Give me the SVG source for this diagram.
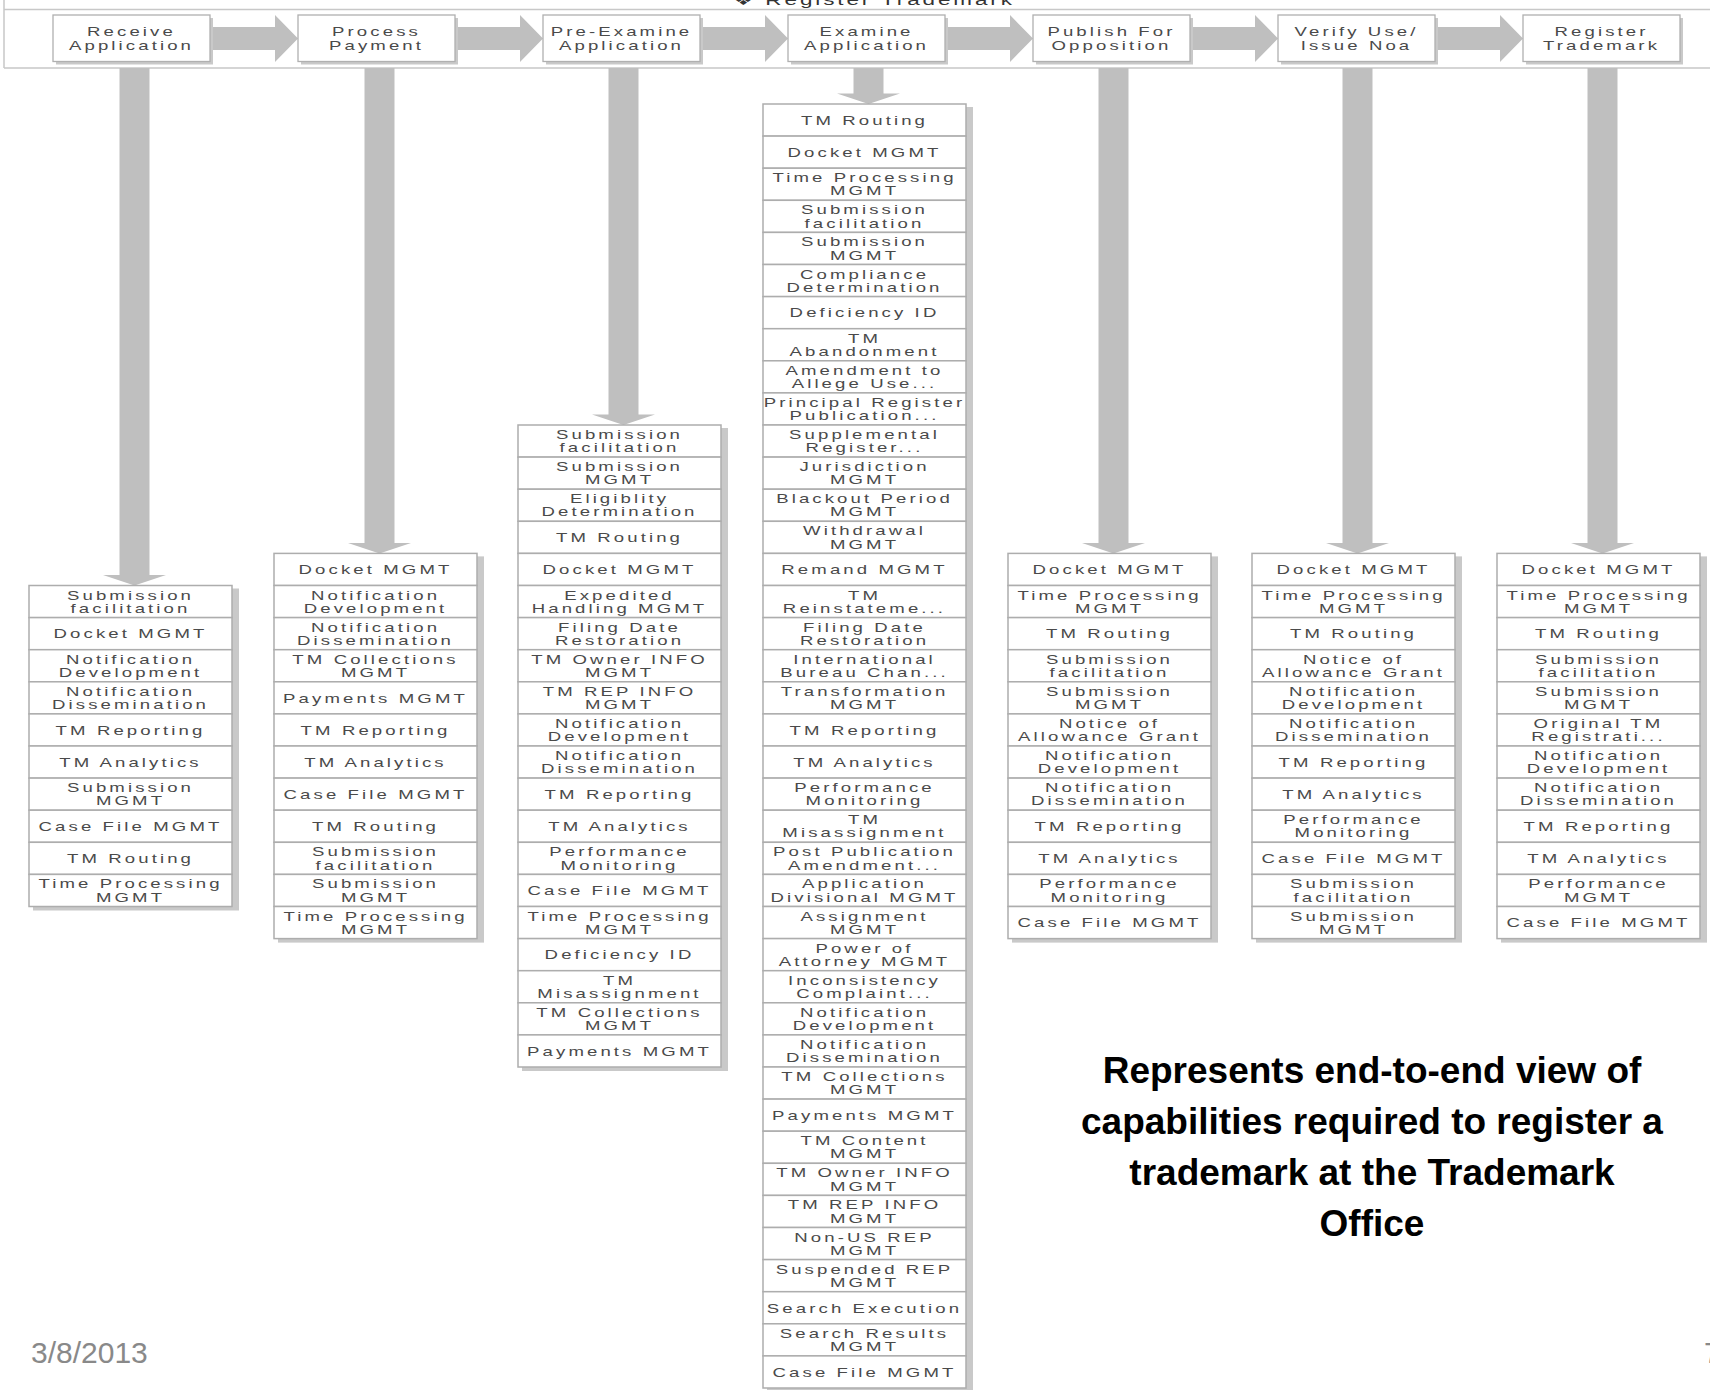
<svg xmlns="http://www.w3.org/2000/svg" width="1710" height="1390" viewBox="0 0 1710 1390">
<style>
.cell{fill:#fff;stroke:#adadad;stroke-width:1.5}
.sh{fill:#c9c9c9}
.t{font-family:"Liberation Sans","DejaVu Sans",Arial,sans-serif;font-size:12px;fill:#4a4a4a;letter-spacing:2px;text-anchor:middle}
.ttl{font-family:"Liberation Sans","DejaVu Sans",Arial,sans-serif;font-size:15.5px;fill:#333;letter-spacing:2px;text-anchor:middle}
.arr{fill:#bfbfbf}
.pbox{fill:#fff;stroke:#b0b0b0;stroke-width:1.3}
.frame{stroke:#c8c8c8;stroke-width:1.5;fill:none}
.note{font-family:"Liberation Sans",Arial,sans-serif;font-size:37px;font-weight:bold;fill:#000;text-anchor:middle}
.foot{font-family:"Liberation Sans",Arial,sans-serif;font-size:30px;fill:#898989}
</style>
<rect width="1710" height="1390" fill="#fff"/>
<g id="frame">
<path class="frame" d="M4,0 V68 M4,9.5 H1710 M4,68 H1710"/>
<text class="ttl" transform="translate(874 5) scale(1.45 1)">❖ Register Trademark</text>
</g>
<g id="connectors">
<polygon class="arr" points="210,27 275,27 275,15 298,38.5 275,62 275,50 210,50"/>
<polygon class="arr" points="455,27 520,27 520,15 543,38.5 520,62 520,50 455,50"/>
<polygon class="arr" points="700,27 765,27 765,15 788,38.5 765,62 765,50 700,50"/>
<polygon class="arr" points="945,27 1010,27 1010,15 1033,38.5 1010,62 1010,50 945,50"/>
<polygon class="arr" points="1190,27 1255,27 1255,15 1278,38.5 1255,62 1255,50 1190,50"/>
<polygon class="arr" points="1435,27 1500,27 1500,15 1523,38.5 1500,62 1500,50 1435,50"/>
<polygon class="arr" points="119.5,68 149.5,68 149.5,575 166,575 134.5,585.5 103,575 119.5,575"/>
<polygon class="arr" points="364.5,68 394.5,68 394.5,543 411,543 379.5,553.4 348,543 364.5,543"/>
<polygon class="arr" points="608.5,68 638.5,68 638.5,414.5 655,414.5 623.5,425 592,414.5 608.5,414.5"/>
<polygon class="arr" points="853.5,68 883.5,68 883.5,93.5 900,93.5 868.5,104 837,93.5 853.5,93.5"/>
<polygon class="arr" points="1098.5,68 1128.5,68 1128.5,543 1145,543 1113.5,553.4 1082,543 1098.5,543"/>
<polygon class="arr" points="1342.5,68 1372.5,68 1372.5,543 1389,543 1357.5,553.4 1326,543 1342.5,543"/>
<polygon class="arr" points="1587.5,68 1617.5,68 1617.5,543 1634,543 1602.5,553.4 1571,543 1587.5,543"/>
</g>
<g id="processes">
<g id="p0"><rect class="sh" x="56" y="18" width="157" height="46.5"/><rect class="pbox" x="53" y="15" width="157" height="46.5"/><text class="t" transform="translate(131.5 36) scale(1.55 1)"><tspan x="0">Receive</tspan><tspan x="0" dy="14">Application</tspan></text></g>
<g id="p1"><rect class="sh" x="301" y="18" width="157" height="46.5"/><rect class="pbox" x="298" y="15" width="157" height="46.5"/><text class="t" transform="translate(376.5 36) scale(1.55 1)"><tspan x="0">Process</tspan><tspan x="0" dy="14">Payment</tspan></text></g>
<g id="p2"><rect class="sh" x="546" y="18" width="157" height="46.5"/><rect class="pbox" x="543" y="15" width="157" height="46.5"/><text class="t" transform="translate(621.5 36) scale(1.55 1)"><tspan x="0">Pre-Examine</tspan><tspan x="0" dy="14">Application</tspan></text></g>
<g id="p3"><rect class="sh" x="791" y="18" width="157" height="46.5"/><rect class="pbox" x="788" y="15" width="157" height="46.5"/><text class="t" transform="translate(866.5 36) scale(1.55 1)"><tspan x="0">Examine</tspan><tspan x="0" dy="14">Application</tspan></text></g>
<g id="p4"><rect class="sh" x="1036" y="18" width="157" height="46.5"/><rect class="pbox" x="1033" y="15" width="157" height="46.5"/><text class="t" transform="translate(1111.5 36) scale(1.55 1)"><tspan x="0">Publish For</tspan><tspan x="0" dy="14">Opposition</tspan></text></g>
<g id="p5"><rect class="sh" x="1281" y="18" width="157" height="46.5"/><rect class="pbox" x="1278" y="15" width="157" height="46.5"/><text class="t" transform="translate(1356.5 36) scale(1.55 1)"><tspan x="0">Verify Use/</tspan><tspan x="0" dy="14">Issue Noa</tspan></text></g>
<g id="p6"><rect class="sh" x="1526" y="18" width="157" height="46.5"/><rect class="pbox" x="1523" y="15" width="157" height="46.5"/><text class="t" transform="translate(1601.5 36) scale(1.55 1)"><tspan x="0">Register</tspan><tspan x="0" dy="14">Trademark</tspan></text></g>
</g>
<g id="shadows">
<rect class="sh" x="33" y="588.5" width="206" height="322"/>
<rect class="sh" x="278" y="556.4" width="206" height="386.2"/>
<rect class="sh" x="522" y="428" width="206" height="643"/>
<rect class="sh" x="767" y="107" width="206" height="1285"/>
<rect class="sh" x="1012" y="556.4" width="206" height="386.2"/>
<rect class="sh" x="1256" y="556.4" width="206" height="386.2"/>
<rect class="sh" x="1501" y="556.4" width="206" height="386.2"/>
</g>
<g id="col-receive">
<g id="c0-1"><rect class="cell" x="29" y="585.5" width="203" height="32.1"/><text class="t" transform="translate(130.5 599.5) scale(1.55 1)"><tspan x="0">Submission</tspan><tspan x="0" dy="13.3">facilitation</tspan></text></g>
<g id="c0-2"><rect class="cell" x="29" y="617.6" width="203" height="32.1"/><text class="t" transform="translate(130.5 638.4) scale(1.55 1)">Docket MGMT</text></g>
<g id="c0-3"><rect class="cell" x="29" y="649.7" width="203" height="32.1"/><text class="t" transform="translate(130.5 663.7) scale(1.55 1)"><tspan x="0">Notification</tspan><tspan x="0" dy="13.3">Development</tspan></text></g>
<g id="c0-4"><rect class="cell" x="29" y="681.8" width="203" height="32.1"/><text class="t" transform="translate(130.5 695.8) scale(1.55 1)"><tspan x="0">Notification</tspan><tspan x="0" dy="13.3">Dissemination</tspan></text></g>
<g id="c0-5"><rect class="cell" x="29" y="713.9" width="203" height="32.1"/><text class="t" transform="translate(130.5 734.7) scale(1.55 1)">TM Reporting</text></g>
<g id="c0-6"><rect class="cell" x="29" y="746" width="203" height="32.1"/><text class="t" transform="translate(130.5 766.8) scale(1.55 1)">TM Analytics</text></g>
<g id="c0-7"><rect class="cell" x="29" y="778.1" width="203" height="32.1"/><text class="t" transform="translate(130.5 792.1) scale(1.55 1)"><tspan x="0">Submission</tspan><tspan x="0" dy="13.3">MGMT</tspan></text></g>
<g id="c0-8"><rect class="cell" x="29" y="810.2" width="203" height="32.1"/><text class="t" transform="translate(130.5 831) scale(1.55 1)">Case File MGMT</text></g>
<g id="c0-9"><rect class="cell" x="29" y="842.3" width="203" height="32.1"/><text class="t" transform="translate(130.5 863.1) scale(1.55 1)">TM Routing</text></g>
<g id="c0-10"><rect class="cell" x="29" y="874.4" width="203" height="32.1"/><text class="t" transform="translate(130.5 888.4) scale(1.55 1)"><tspan x="0">Time Processing</tspan><tspan x="0" dy="13.3">MGMT</tspan></text></g>
</g>
<g id="col-payment">
<g id="c1-1"><rect class="cell" x="274" y="553.4" width="203" height="32.1"/><text class="t" transform="translate(375.5 574.2) scale(1.55 1)">Docket MGMT</text></g>
<g id="c1-2"><rect class="cell" x="274" y="585.5" width="203" height="32.1"/><text class="t" transform="translate(375.5 599.5) scale(1.55 1)"><tspan x="0">Notification</tspan><tspan x="0" dy="13.3">Development</tspan></text></g>
<g id="c1-3"><rect class="cell" x="274" y="617.6" width="203" height="32.1"/><text class="t" transform="translate(375.5 631.6) scale(1.55 1)"><tspan x="0">Notification</tspan><tspan x="0" dy="13.3">Dissemination</tspan></text></g>
<g id="c1-4"><rect class="cell" x="274" y="649.7" width="203" height="32.1"/><text class="t" transform="translate(375.5 663.7) scale(1.55 1)"><tspan x="0">TM Collections</tspan><tspan x="0" dy="13.3">MGMT</tspan></text></g>
<g id="c1-5"><rect class="cell" x="274" y="681.8" width="203" height="32.1"/><text class="t" transform="translate(375.5 702.6) scale(1.55 1)">Payments MGMT</text></g>
<g id="c1-6"><rect class="cell" x="274" y="713.9" width="203" height="32.1"/><text class="t" transform="translate(375.5 734.7) scale(1.55 1)">TM Reporting</text></g>
<g id="c1-7"><rect class="cell" x="274" y="746" width="203" height="32.1"/><text class="t" transform="translate(375.5 766.8) scale(1.55 1)">TM Analytics</text></g>
<g id="c1-8"><rect class="cell" x="274" y="778.1" width="203" height="32.1"/><text class="t" transform="translate(375.5 798.9) scale(1.55 1)">Case File MGMT</text></g>
<g id="c1-9"><rect class="cell" x="274" y="810.2" width="203" height="32.1"/><text class="t" transform="translate(375.5 831) scale(1.55 1)">TM Routing</text></g>
<g id="c1-10"><rect class="cell" x="274" y="842.3" width="203" height="32.1"/><text class="t" transform="translate(375.5 856.3) scale(1.55 1)"><tspan x="0">Submission</tspan><tspan x="0" dy="13.3">facilitation</tspan></text></g>
<g id="c1-11"><rect class="cell" x="274" y="874.4" width="203" height="32.1"/><text class="t" transform="translate(375.5 888.4) scale(1.55 1)"><tspan x="0">Submission</tspan><tspan x="0" dy="13.3">MGMT</tspan></text></g>
<g id="c1-12"><rect class="cell" x="274" y="906.5" width="203" height="32.1"/><text class="t" transform="translate(375.5 920.5) scale(1.55 1)"><tspan x="0">Time Processing</tspan><tspan x="0" dy="13.3">MGMT</tspan></text></g>
</g>
<g id="col-preexamine">
<g id="c2-1"><rect class="cell" x="518" y="425" width="203" height="32.1"/><text class="t" transform="translate(619.5 439) scale(1.55 1)"><tspan x="0">Submission</tspan><tspan x="0" dy="13.3">facilitation</tspan></text></g>
<g id="c2-2"><rect class="cell" x="518" y="457.1" width="203" height="32.1"/><text class="t" transform="translate(619.5 471.1) scale(1.55 1)"><tspan x="0">Submission</tspan><tspan x="0" dy="13.3">MGMT</tspan></text></g>
<g id="c2-3"><rect class="cell" x="518" y="489.2" width="203" height="32.1"/><text class="t" transform="translate(619.5 503.2) scale(1.55 1)"><tspan x="0">Eligiblity</tspan><tspan x="0" dy="13.3">Determination</tspan></text></g>
<g id="c2-4"><rect class="cell" x="518" y="521.3" width="203" height="32.1"/><text class="t" transform="translate(619.5 542.1) scale(1.55 1)">TM Routing</text></g>
<g id="c2-5"><rect class="cell" x="518" y="553.4" width="203" height="32.1"/><text class="t" transform="translate(619.5 574.2) scale(1.55 1)">Docket MGMT</text></g>
<g id="c2-6"><rect class="cell" x="518" y="585.5" width="203" height="32.1"/><text class="t" transform="translate(619.5 599.5) scale(1.55 1)"><tspan x="0">Expedited</tspan><tspan x="0" dy="13.3">Handling MGMT</tspan></text></g>
<g id="c2-7"><rect class="cell" x="518" y="617.6" width="203" height="32.1"/><text class="t" transform="translate(619.5 631.6) scale(1.55 1)"><tspan x="0">Filing Date</tspan><tspan x="0" dy="13.3">Restoration</tspan></text></g>
<g id="c2-8"><rect class="cell" x="518" y="649.7" width="203" height="32.1"/><text class="t" transform="translate(619.5 663.7) scale(1.55 1)"><tspan x="0">TM Owner INFO</tspan><tspan x="0" dy="13.3">MGMT</tspan></text></g>
<g id="c2-9"><rect class="cell" x="518" y="681.8" width="203" height="32.1"/><text class="t" transform="translate(619.5 695.8) scale(1.55 1)"><tspan x="0">TM REP INFO</tspan><tspan x="0" dy="13.3">MGMT</tspan></text></g>
<g id="c2-10"><rect class="cell" x="518" y="713.9" width="203" height="32.1"/><text class="t" transform="translate(619.5 727.9) scale(1.55 1)"><tspan x="0">Notification</tspan><tspan x="0" dy="13.3">Development</tspan></text></g>
<g id="c2-11"><rect class="cell" x="518" y="746" width="203" height="32.1"/><text class="t" transform="translate(619.5 760) scale(1.55 1)"><tspan x="0">Notification</tspan><tspan x="0" dy="13.3">Dissemination</tspan></text></g>
<g id="c2-12"><rect class="cell" x="518" y="778.1" width="203" height="32.1"/><text class="t" transform="translate(619.5 798.9) scale(1.55 1)">TM Reporting</text></g>
<g id="c2-13"><rect class="cell" x="518" y="810.2" width="203" height="32.1"/><text class="t" transform="translate(619.5 831) scale(1.55 1)">TM Analytics</text></g>
<g id="c2-14"><rect class="cell" x="518" y="842.3" width="203" height="32.1"/><text class="t" transform="translate(619.5 856.3) scale(1.55 1)"><tspan x="0">Performance</tspan><tspan x="0" dy="13.3">Monitoring</tspan></text></g>
<g id="c2-15"><rect class="cell" x="518" y="874.4" width="203" height="32.1"/><text class="t" transform="translate(619.5 895.2) scale(1.55 1)">Case File MGMT</text></g>
<g id="c2-16"><rect class="cell" x="518" y="906.5" width="203" height="32.1"/><text class="t" transform="translate(619.5 920.5) scale(1.55 1)"><tspan x="0">Time Processing</tspan><tspan x="0" dy="13.3">MGMT</tspan></text></g>
<g id="c2-17"><rect class="cell" x="518" y="938.6" width="203" height="32.1"/><text class="t" transform="translate(619.5 959.4) scale(1.55 1)">Deficiency ID</text></g>
<g id="c2-18"><rect class="cell" x="518" y="970.7" width="203" height="32.1"/><text class="t" transform="translate(619.5 984.7) scale(1.55 1)"><tspan x="0">TM</tspan><tspan x="0" dy="13.3">Misassignment</tspan></text></g>
<g id="c2-19"><rect class="cell" x="518" y="1002.8" width="203" height="32.1"/><text class="t" transform="translate(619.5 1016.8) scale(1.55 1)"><tspan x="0">TM Collections</tspan><tspan x="0" dy="13.3">MGMT</tspan></text></g>
<g id="c2-20"><rect class="cell" x="518" y="1034.9" width="203" height="32.1"/><text class="t" transform="translate(619.5 1055.7) scale(1.55 1)">Payments MGMT</text></g>
</g>
<g id="col-examine">
<g id="c3-1"><rect class="cell" x="763" y="104" width="203" height="32.1"/><text class="t" transform="translate(864.5 124.8) scale(1.55 1)">TM Routing</text></g>
<g id="c3-2"><rect class="cell" x="763" y="136.1" width="203" height="32.1"/><text class="t" transform="translate(864.5 156.9) scale(1.55 1)">Docket MGMT</text></g>
<g id="c3-3"><rect class="cell" x="763" y="168.2" width="203" height="32.1"/><text class="t" transform="translate(864.5 182.2) scale(1.55 1)"><tspan x="0">Time Processing</tspan><tspan x="0" dy="13.3">MGMT</tspan></text></g>
<g id="c3-4"><rect class="cell" x="763" y="200.3" width="203" height="32.1"/><text class="t" transform="translate(864.5 214.3) scale(1.55 1)"><tspan x="0">Submission</tspan><tspan x="0" dy="13.3">facilitation</tspan></text></g>
<g id="c3-5"><rect class="cell" x="763" y="232.4" width="203" height="32.1"/><text class="t" transform="translate(864.5 246.4) scale(1.55 1)"><tspan x="0">Submission</tspan><tspan x="0" dy="13.3">MGMT</tspan></text></g>
<g id="c3-6"><rect class="cell" x="763" y="264.5" width="203" height="32.1"/><text class="t" transform="translate(864.5 278.5) scale(1.55 1)"><tspan x="0">Compliance</tspan><tspan x="0" dy="13.3">Determination</tspan></text></g>
<g id="c3-7"><rect class="cell" x="763" y="296.6" width="203" height="32.1"/><text class="t" transform="translate(864.5 317.4) scale(1.55 1)">Deficiency ID</text></g>
<g id="c3-8"><rect class="cell" x="763" y="328.7" width="203" height="32.1"/><text class="t" transform="translate(864.5 342.7) scale(1.55 1)"><tspan x="0">TM</tspan><tspan x="0" dy="13.3">Abandonment</tspan></text></g>
<g id="c3-9"><rect class="cell" x="763" y="360.8" width="203" height="32.1"/><text class="t" transform="translate(864.5 374.8) scale(1.55 1)"><tspan x="0">Amendment to</tspan><tspan x="0" dy="13.3">Allege Use...</tspan></text></g>
<g id="c3-10"><rect class="cell" x="763" y="392.9" width="203" height="32.1"/><text class="t" transform="translate(864.5 406.9) scale(1.55 1)"><tspan x="0">Principal Register</tspan><tspan x="0" dy="13.3">Publication...</tspan></text></g>
<g id="c3-11"><rect class="cell" x="763" y="425" width="203" height="32.1"/><text class="t" transform="translate(864.5 439) scale(1.55 1)"><tspan x="0">Supplemental</tspan><tspan x="0" dy="13.3">Register...</tspan></text></g>
<g id="c3-12"><rect class="cell" x="763" y="457.1" width="203" height="32.1"/><text class="t" transform="translate(864.5 471.1) scale(1.55 1)"><tspan x="0">Jurisdiction</tspan><tspan x="0" dy="13.3">MGMT</tspan></text></g>
<g id="c3-13"><rect class="cell" x="763" y="489.2" width="203" height="32.1"/><text class="t" transform="translate(864.5 503.2) scale(1.55 1)"><tspan x="0">Blackout Period</tspan><tspan x="0" dy="13.3">MGMT</tspan></text></g>
<g id="c3-14"><rect class="cell" x="763" y="521.3" width="203" height="32.1"/><text class="t" transform="translate(864.5 535.3) scale(1.55 1)"><tspan x="0">Withdrawal</tspan><tspan x="0" dy="13.3">MGMT</tspan></text></g>
<g id="c3-15"><rect class="cell" x="763" y="553.4" width="203" height="32.1"/><text class="t" transform="translate(864.5 574.2) scale(1.55 1)">Remand MGMT</text></g>
<g id="c3-16"><rect class="cell" x="763" y="585.5" width="203" height="32.1"/><text class="t" transform="translate(864.5 599.5) scale(1.55 1)"><tspan x="0">TM</tspan><tspan x="0" dy="13.3">Reinstateme...</tspan></text></g>
<g id="c3-17"><rect class="cell" x="763" y="617.6" width="203" height="32.1"/><text class="t" transform="translate(864.5 631.6) scale(1.55 1)"><tspan x="0">Filing Date</tspan><tspan x="0" dy="13.3">Restoration</tspan></text></g>
<g id="c3-18"><rect class="cell" x="763" y="649.7" width="203" height="32.1"/><text class="t" transform="translate(864.5 663.7) scale(1.55 1)"><tspan x="0">International</tspan><tspan x="0" dy="13.3">Bureau Chan...</tspan></text></g>
<g id="c3-19"><rect class="cell" x="763" y="681.8" width="203" height="32.1"/><text class="t" transform="translate(864.5 695.8) scale(1.55 1)"><tspan x="0">Transformation</tspan><tspan x="0" dy="13.3">MGMT</tspan></text></g>
<g id="c3-20"><rect class="cell" x="763" y="713.9" width="203" height="32.1"/><text class="t" transform="translate(864.5 734.7) scale(1.55 1)">TM Reporting</text></g>
<g id="c3-21"><rect class="cell" x="763" y="746" width="203" height="32.1"/><text class="t" transform="translate(864.5 766.8) scale(1.55 1)">TM Analytics</text></g>
<g id="c3-22"><rect class="cell" x="763" y="778.1" width="203" height="32.1"/><text class="t" transform="translate(864.5 792.1) scale(1.55 1)"><tspan x="0">Performance</tspan><tspan x="0" dy="13.3">Monitoring</tspan></text></g>
<g id="c3-23"><rect class="cell" x="763" y="810.2" width="203" height="32.1"/><text class="t" transform="translate(864.5 824.2) scale(1.55 1)"><tspan x="0">TM</tspan><tspan x="0" dy="13.3">Misassignment</tspan></text></g>
<g id="c3-24"><rect class="cell" x="763" y="842.3" width="203" height="32.1"/><text class="t" transform="translate(864.5 856.3) scale(1.55 1)"><tspan x="0">Post Publication</tspan><tspan x="0" dy="13.3">Amendment...</tspan></text></g>
<g id="c3-25"><rect class="cell" x="763" y="874.4" width="203" height="32.1"/><text class="t" transform="translate(864.5 888.4) scale(1.55 1)"><tspan x="0">Application</tspan><tspan x="0" dy="13.3">Divisional MGMT</tspan></text></g>
<g id="c3-26"><rect class="cell" x="763" y="906.5" width="203" height="32.1"/><text class="t" transform="translate(864.5 920.5) scale(1.55 1)"><tspan x="0">Assignment</tspan><tspan x="0" dy="13.3">MGMT</tspan></text></g>
<g id="c3-27"><rect class="cell" x="763" y="938.6" width="203" height="32.1"/><text class="t" transform="translate(864.5 952.6) scale(1.55 1)"><tspan x="0">Power of</tspan><tspan x="0" dy="13.3">Attorney MGMT</tspan></text></g>
<g id="c3-28"><rect class="cell" x="763" y="970.7" width="203" height="32.1"/><text class="t" transform="translate(864.5 984.7) scale(1.55 1)"><tspan x="0">Inconsistency</tspan><tspan x="0" dy="13.3">Complaint...</tspan></text></g>
<g id="c3-29"><rect class="cell" x="763" y="1002.8" width="203" height="32.1"/><text class="t" transform="translate(864.5 1016.8) scale(1.55 1)"><tspan x="0">Notification</tspan><tspan x="0" dy="13.3">Development</tspan></text></g>
<g id="c3-30"><rect class="cell" x="763" y="1034.9" width="203" height="32.1"/><text class="t" transform="translate(864.5 1048.9) scale(1.55 1)"><tspan x="0">Notification</tspan><tspan x="0" dy="13.3">Dissemination</tspan></text></g>
<g id="c3-31"><rect class="cell" x="763" y="1067" width="203" height="32.1"/><text class="t" transform="translate(864.5 1081) scale(1.55 1)"><tspan x="0">TM Collections</tspan><tspan x="0" dy="13.3">MGMT</tspan></text></g>
<g id="c3-32"><rect class="cell" x="763" y="1099.1" width="203" height="32.1"/><text class="t" transform="translate(864.5 1119.9) scale(1.55 1)">Payments MGMT</text></g>
<g id="c3-33"><rect class="cell" x="763" y="1131.2" width="203" height="32.1"/><text class="t" transform="translate(864.5 1145.2) scale(1.55 1)"><tspan x="0">TM Content</tspan><tspan x="0" dy="13.3">MGMT</tspan></text></g>
<g id="c3-34"><rect class="cell" x="763" y="1163.3" width="203" height="32.1"/><text class="t" transform="translate(864.5 1177.3) scale(1.55 1)"><tspan x="0">TM Owner INFO</tspan><tspan x="0" dy="13.3">MGMT</tspan></text></g>
<g id="c3-35"><rect class="cell" x="763" y="1195.4" width="203" height="32.1"/><text class="t" transform="translate(864.5 1209.4) scale(1.55 1)"><tspan x="0">TM REP INFO</tspan><tspan x="0" dy="13.3">MGMT</tspan></text></g>
<g id="c3-36"><rect class="cell" x="763" y="1227.5" width="203" height="32.1"/><text class="t" transform="translate(864.5 1241.5) scale(1.55 1)"><tspan x="0">Non-US REP</tspan><tspan x="0" dy="13.3">MGMT</tspan></text></g>
<g id="c3-37"><rect class="cell" x="763" y="1259.6" width="203" height="32.1"/><text class="t" transform="translate(864.5 1273.6) scale(1.55 1)"><tspan x="0">Suspended REP</tspan><tspan x="0" dy="13.3">MGMT</tspan></text></g>
<g id="c3-38"><rect class="cell" x="763" y="1291.7" width="203" height="32.1"/><text class="t" transform="translate(864.5 1312.5) scale(1.55 1)">Search Execution</text></g>
<g id="c3-39"><rect class="cell" x="763" y="1323.8" width="203" height="32.1"/><text class="t" transform="translate(864.5 1337.8) scale(1.55 1)"><tspan x="0">Search Results</tspan><tspan x="0" dy="13.3">MGMT</tspan></text></g>
<g id="c3-40"><rect class="cell" x="763" y="1355.9" width="203" height="32.1"/><text class="t" transform="translate(864.5 1376.7) scale(1.55 1)">Case File MGMT</text></g>
</g>
<g id="col-publish">
<g id="c4-1"><rect class="cell" x="1008" y="553.4" width="203" height="32.1"/><text class="t" transform="translate(1109.5 574.2) scale(1.55 1)">Docket MGMT</text></g>
<g id="c4-2"><rect class="cell" x="1008" y="585.5" width="203" height="32.1"/><text class="t" transform="translate(1109.5 599.5) scale(1.55 1)"><tspan x="0">Time Processing</tspan><tspan x="0" dy="13.3">MGMT</tspan></text></g>
<g id="c4-3"><rect class="cell" x="1008" y="617.6" width="203" height="32.1"/><text class="t" transform="translate(1109.5 638.4) scale(1.55 1)">TM Routing</text></g>
<g id="c4-4"><rect class="cell" x="1008" y="649.7" width="203" height="32.1"/><text class="t" transform="translate(1109.5 663.7) scale(1.55 1)"><tspan x="0">Submission</tspan><tspan x="0" dy="13.3">facilitation</tspan></text></g>
<g id="c4-5"><rect class="cell" x="1008" y="681.8" width="203" height="32.1"/><text class="t" transform="translate(1109.5 695.8) scale(1.55 1)"><tspan x="0">Submission</tspan><tspan x="0" dy="13.3">MGMT</tspan></text></g>
<g id="c4-6"><rect class="cell" x="1008" y="713.9" width="203" height="32.1"/><text class="t" transform="translate(1109.5 727.9) scale(1.55 1)"><tspan x="0">Notice of</tspan><tspan x="0" dy="13.3">Allowance Grant</tspan></text></g>
<g id="c4-7"><rect class="cell" x="1008" y="746" width="203" height="32.1"/><text class="t" transform="translate(1109.5 760) scale(1.55 1)"><tspan x="0">Notification</tspan><tspan x="0" dy="13.3">Development</tspan></text></g>
<g id="c4-8"><rect class="cell" x="1008" y="778.1" width="203" height="32.1"/><text class="t" transform="translate(1109.5 792.1) scale(1.55 1)"><tspan x="0">Notification</tspan><tspan x="0" dy="13.3">Dissemination</tspan></text></g>
<g id="c4-9"><rect class="cell" x="1008" y="810.2" width="203" height="32.1"/><text class="t" transform="translate(1109.5 831) scale(1.55 1)">TM Reporting</text></g>
<g id="c4-10"><rect class="cell" x="1008" y="842.3" width="203" height="32.1"/><text class="t" transform="translate(1109.5 863.1) scale(1.55 1)">TM Analytics</text></g>
<g id="c4-11"><rect class="cell" x="1008" y="874.4" width="203" height="32.1"/><text class="t" transform="translate(1109.5 888.4) scale(1.55 1)"><tspan x="0">Performance</tspan><tspan x="0" dy="13.3">Monitoring</tspan></text></g>
<g id="c4-12"><rect class="cell" x="1008" y="906.5" width="203" height="32.1"/><text class="t" transform="translate(1109.5 927.3) scale(1.55 1)">Case File MGMT</text></g>
</g>
<g id="col-verify">
<g id="c5-1"><rect class="cell" x="1252" y="553.4" width="203" height="32.1"/><text class="t" transform="translate(1353.5 574.2) scale(1.55 1)">Docket MGMT</text></g>
<g id="c5-2"><rect class="cell" x="1252" y="585.5" width="203" height="32.1"/><text class="t" transform="translate(1353.5 599.5) scale(1.55 1)"><tspan x="0">Time Processing</tspan><tspan x="0" dy="13.3">MGMT</tspan></text></g>
<g id="c5-3"><rect class="cell" x="1252" y="617.6" width="203" height="32.1"/><text class="t" transform="translate(1353.5 638.4) scale(1.55 1)">TM Routing</text></g>
<g id="c5-4"><rect class="cell" x="1252" y="649.7" width="203" height="32.1"/><text class="t" transform="translate(1353.5 663.7) scale(1.55 1)"><tspan x="0">Notice of</tspan><tspan x="0" dy="13.3">Allowance Grant</tspan></text></g>
<g id="c5-5"><rect class="cell" x="1252" y="681.8" width="203" height="32.1"/><text class="t" transform="translate(1353.5 695.8) scale(1.55 1)"><tspan x="0">Notification</tspan><tspan x="0" dy="13.3">Development</tspan></text></g>
<g id="c5-6"><rect class="cell" x="1252" y="713.9" width="203" height="32.1"/><text class="t" transform="translate(1353.5 727.9) scale(1.55 1)"><tspan x="0">Notification</tspan><tspan x="0" dy="13.3">Dissemination</tspan></text></g>
<g id="c5-7"><rect class="cell" x="1252" y="746" width="203" height="32.1"/><text class="t" transform="translate(1353.5 766.8) scale(1.55 1)">TM Reporting</text></g>
<g id="c5-8"><rect class="cell" x="1252" y="778.1" width="203" height="32.1"/><text class="t" transform="translate(1353.5 798.9) scale(1.55 1)">TM Analytics</text></g>
<g id="c5-9"><rect class="cell" x="1252" y="810.2" width="203" height="32.1"/><text class="t" transform="translate(1353.5 824.2) scale(1.55 1)"><tspan x="0">Performance</tspan><tspan x="0" dy="13.3">Monitoring</tspan></text></g>
<g id="c5-10"><rect class="cell" x="1252" y="842.3" width="203" height="32.1"/><text class="t" transform="translate(1353.5 863.1) scale(1.55 1)">Case File MGMT</text></g>
<g id="c5-11"><rect class="cell" x="1252" y="874.4" width="203" height="32.1"/><text class="t" transform="translate(1353.5 888.4) scale(1.55 1)"><tspan x="0">Submission</tspan><tspan x="0" dy="13.3">facilitation</tspan></text></g>
<g id="c5-12"><rect class="cell" x="1252" y="906.5" width="203" height="32.1"/><text class="t" transform="translate(1353.5 920.5) scale(1.55 1)"><tspan x="0">Submission</tspan><tspan x="0" dy="13.3">MGMT</tspan></text></g>
</g>
<g id="col-register">
<g id="c6-1"><rect class="cell" x="1497" y="553.4" width="203" height="32.1"/><text class="t" transform="translate(1598.5 574.2) scale(1.55 1)">Docket MGMT</text></g>
<g id="c6-2"><rect class="cell" x="1497" y="585.5" width="203" height="32.1"/><text class="t" transform="translate(1598.5 599.5) scale(1.55 1)"><tspan x="0">Time Processing</tspan><tspan x="0" dy="13.3">MGMT</tspan></text></g>
<g id="c6-3"><rect class="cell" x="1497" y="617.6" width="203" height="32.1"/><text class="t" transform="translate(1598.5 638.4) scale(1.55 1)">TM Routing</text></g>
<g id="c6-4"><rect class="cell" x="1497" y="649.7" width="203" height="32.1"/><text class="t" transform="translate(1598.5 663.7) scale(1.55 1)"><tspan x="0">Submission</tspan><tspan x="0" dy="13.3">facilitation</tspan></text></g>
<g id="c6-5"><rect class="cell" x="1497" y="681.8" width="203" height="32.1"/><text class="t" transform="translate(1598.5 695.8) scale(1.55 1)"><tspan x="0">Submission</tspan><tspan x="0" dy="13.3">MGMT</tspan></text></g>
<g id="c6-6"><rect class="cell" x="1497" y="713.9" width="203" height="32.1"/><text class="t" transform="translate(1598.5 727.9) scale(1.55 1)"><tspan x="0">Original TM</tspan><tspan x="0" dy="13.3">Registrati...</tspan></text></g>
<g id="c6-7"><rect class="cell" x="1497" y="746" width="203" height="32.1"/><text class="t" transform="translate(1598.5 760) scale(1.55 1)"><tspan x="0">Notification</tspan><tspan x="0" dy="13.3">Development</tspan></text></g>
<g id="c6-8"><rect class="cell" x="1497" y="778.1" width="203" height="32.1"/><text class="t" transform="translate(1598.5 792.1) scale(1.55 1)"><tspan x="0">Notification</tspan><tspan x="0" dy="13.3">Dissemination</tspan></text></g>
<g id="c6-9"><rect class="cell" x="1497" y="810.2" width="203" height="32.1"/><text class="t" transform="translate(1598.5 831) scale(1.55 1)">TM Reporting</text></g>
<g id="c6-10"><rect class="cell" x="1497" y="842.3" width="203" height="32.1"/><text class="t" transform="translate(1598.5 863.1) scale(1.55 1)">TM Analytics</text></g>
<g id="c6-11"><rect class="cell" x="1497" y="874.4" width="203" height="32.1"/><text class="t" transform="translate(1598.5 888.4) scale(1.55 1)"><tspan x="0">Performance</tspan><tspan x="0" dy="13.3">MGMT</tspan></text></g>
<g id="c6-12"><rect class="cell" x="1497" y="906.5" width="203" height="32.1"/><text class="t" transform="translate(1598.5 927.3) scale(1.55 1)">Case File MGMT</text></g>
</g>
<g id="note">
<text class="note" x="1372" y="1083">Represents end-to-end view of</text>
<text class="note" x="1372" y="1134">capabilities required to register a</text>
<text class="note" x="1372" y="1185">trademark at the Trademark</text>
<text class="note" x="1372" y="1236">Office</text>
</g>
<g id="footer">
<text class="foot" x="31" y="1363">3/8/2013</text>
<text class="foot" x="1704" y="1363">7</text>
</g>
</svg>
